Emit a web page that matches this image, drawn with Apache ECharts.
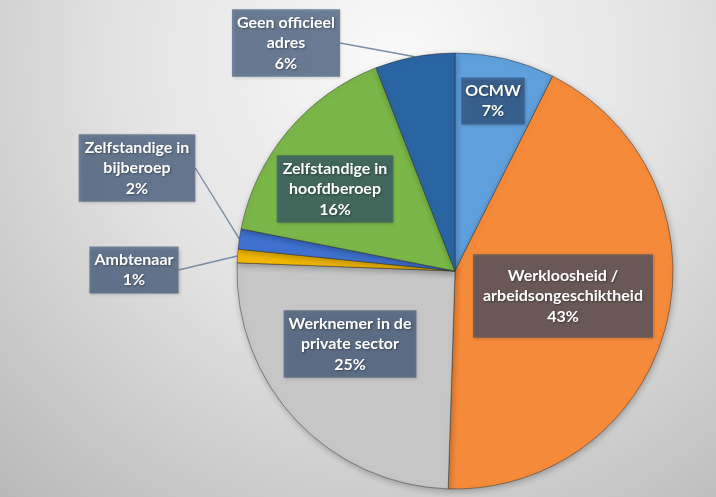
<!DOCTYPE html>
<html>
<head>
<meta charset="utf-8">
<script src="https://cdn.jsdelivr.net/npm/echarts@6/dist/echarts.min.js"></script>
<style>
  html, body { margin: 0; padding: 0; background: #d0d0d0; }
  #chart { width: 716px; height: 497px; }
</style>
</head>
<body>
<div id="chart"></div>
<script>
// ---- Data (clockwise from 12 o'clock) ----
const categories = [
  'OCMW',
  'Werkloosheid /\narbeidsongeschiktheid',
  'Werknemer in de\nprivate sector',
  'Ambtenaar',
  'Zelfstandige in\nbijberoep',
  'Zelfstandige in\nhoofdberoep',
  'Geen officieel\nadres'
];
const values = [7.4, 43.1, 25.1, 1.0, 1.5, 16.0, 5.9];
const colors = ['#5fa0dc', '#f58a3a', '#c6c6c6', '#f2b800', '#3f72d0', '#7ab648', '#2a65a3'];

// label box centres (pixel) and which labels get a leader line
const labelCenters = [[493, 101], [563, 296], [350, 344], [134, 270], [137, 168], [335, 189], [286, 43]];
const hasLeader = [false, false, false, true, true, false, true];
const labelPadding = [[3, 4], [12, 10, 10, 10], [3, 5], [3, 5], [3, 6], [3, 6], [3, 5]];

const chart = echarts.init(document.getElementById('chart'));

const seriesData = categories.map((c, i) => ({
  name: c,
  value: values[i],
  itemStyle: { color: colors[i] },
  label: { padding: labelPadding[i] },
  labelLine: { show: hasLeader[i] }
}));

chart.setOption({
  backgroundColor: new echarts.graphic.RadialGradient(0.55, 0.12, 1.25, [
    { offset: 0, color: '#fafafa' },
    { offset: 0.45, color: '#e2e2e2' },
    { offset: 1, color: '#b4b4b4' }
  ]),
  animation: false,
  series: [{
    type: 'pie',
    center: [455, 271],
    radius: 218,
    startAngle: 90,
    clockwise: true,
    avoidLabelOverlap: false,
    data: seriesData,
    itemStyle: {
      borderColor: 'rgba(40,40,40,0.45)',
      borderWidth: 1,
      shadowBlur: 6,
      shadowColor: 'rgba(0,0,0,0.25)',
      shadowOffsetX: 1,
      shadowOffsetY: 2
    },
    label: {
      show: true,
      position: 'outside',
      formatter: p => p.name + '\n' + Math.round(p.value) + '%',
      color: '#ffffff',
      fontFamily: 'Lato, "Liberation Sans", sans-serif',
      fontWeight: 'bold',
      fontSize: 16,
      lineHeight: 20.5,
      align: 'center',
      backgroundColor: 'rgba(42,72,112,0.6)',
      shadowColor: 'rgba(0,0,0,0.3)',
      shadowBlur: 3,
      shadowOffsetX: 1,
      shadowOffsetY: 1,
      textShadowColor: 'rgba(0,0,0,0.35)',
      textShadowBlur: 2,
      textShadowOffsetX: 1,
      textShadowOffsetY: 1
    },
    labelLine: {
      show: true,
      length: 10,
      length2: 0,
      lineStyle: { color: '#7a8ea6', width: 1.4 }
    },
    labelLayout: function (params) {
      const c = labelCenters[params.dataIndex];
      return { x: c[0], y: c[1], align: 'center', verticalAlign: 'middle' };
    }
  }]
});
</script>
</body>
</html>
